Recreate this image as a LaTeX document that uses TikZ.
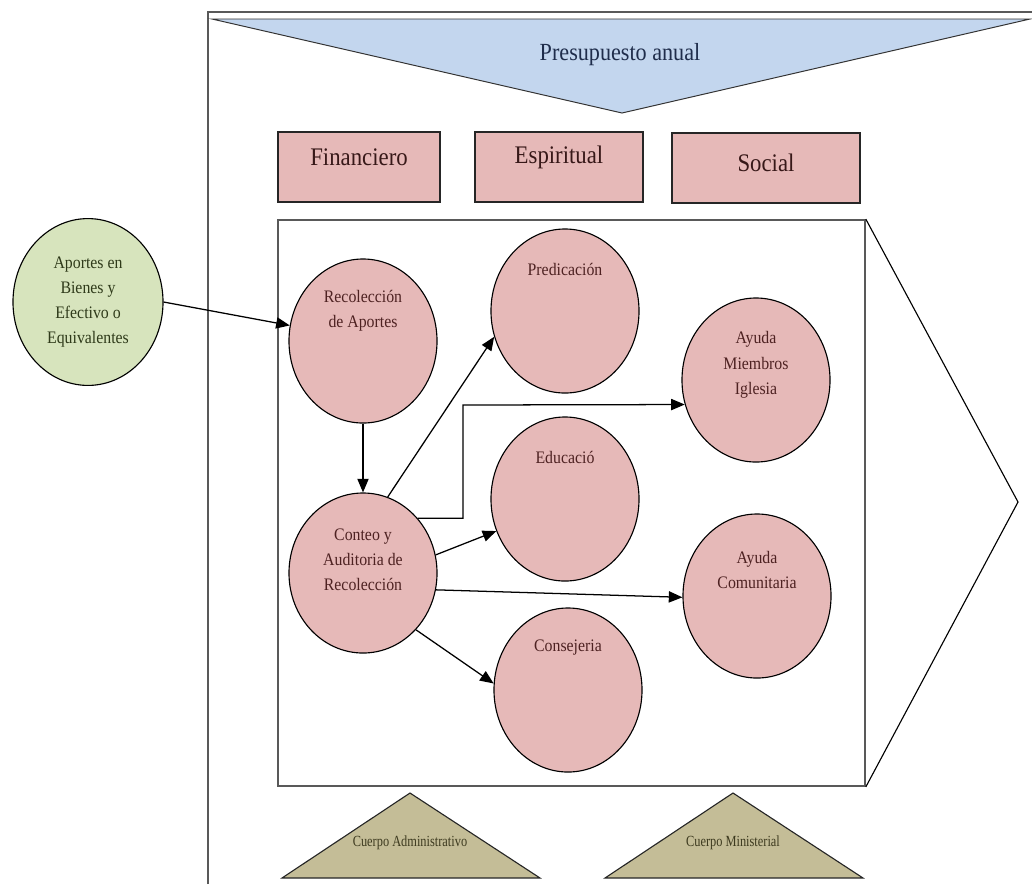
\documentclass[tikz,border=0pt]{standalone}
\usepackage{fontspec}
\setmainfont{Liberation Serif}
\newfontfamily\narrowserif[FakeStretch=0.9]{Liberation Serif}
\newfontfamily\tightserif[FakeStretch=0.8]{Liberation Serif}
\usetikzlibrary{shapes.geometric,arrows.meta}
\definecolor{rosefill}{HTML}{E6B9B8}
\definecolor{rosetext}{HTML}{4E2222}
\definecolor{skyfill}{HTML}{C3D6EE}
\definecolor{skytext}{HTML}{1F2D4B}
\definecolor{leaffill}{HTML}{D7E4BD}
\definecolor{leaftext}{HTML}{2F3A1A}
\definecolor{tanfill}{HTML}{C4BD97}
\definecolor{tantext}{HTML}{3D3A1F}
\begin{document}
\begin{tikzpicture}[x=0.025cm,y=-0.025cm,
  frame/.style={draw=gray!70!black, line width=1.1pt},
  bubble/.style={ellipse, draw=black, line width=0.8pt, fill=rosefill,
    minimum width=3.7cm, minimum height=4.1cm, inner sep=0pt},
  bubbletext/.style={font=\narrowserif\fontsize{12.5}{17.8}\selectfont,
    text=rosetext, align=center},
  areabox/.style={rectangle, draw=gray!30!black, line width=0.9pt, fill=rosefill,
    minimum height=1.75cm, inner sep=0pt},
  areatext/.style={font=\narrowserif\fontsize{18}{20}\selectfont, text=rosetext!70!black},
  bodytext/.style={font=\tightserif\fontsize{11}{13}\selectfont, text=tantext},
  arr/.style={-{Triangle[length=3.4mm,width=2.8mm]}, line width=0.9pt}
]
  \useasboundingbox (0,0) rectangle (1032,884);
  % outer frame
  \draw[frame] (208,884) -- (208,12) -- (1032,12);
  % budget funnel
  \draw[fill=skyfill, draw=black!80, line width=0.7pt] (212,19) -- (1030,19) -- (622,113) -- cycle;
  \node[font=\narrowserif\fontsize{17.5}{20}\selectfont, text=skytext] (budget) at (620,55) {Presupuesto anual};
  % areas
  \node[areabox, minimum width=4.05cm, label={[areatext, yshift=0.25cm]center:Financiero}] (fin) at (359,167) {};
  \node[areabox, minimum width=4.2cm, label={[areatext, yshift=0.25cm]center:Espiritual}] (esp) at (559,167) {};
  \node[areabox, minimum width=4.7cm, label={[areatext, yshift=0.12cm]center:Social}] (soc) at (766,168) {};
  % process box and chevron
  \node[frame, rectangle, minimum width=14.675cm, minimum height=14.15cm, inner sep=0pt] (proc) at (571.5,503) {};
  \coordinate (tip) at (1018,502);
  \draw[line width=0.8pt] (proc.north east) -- (tip) -- (proc.south east);
  % input
  \node[ellipse, draw=black, line width=0.8pt, fill=leaffill, minimum width=3.75cm, minimum height=4.17cm, inner sep=0pt,
    label={[bubbletext, text=leaftext]center:{Aportes en\\Bienes y\\Efectivo o\\Equivalentes}}] (input) at (88,302) {};
  % activities
  \node[bubble, label={[bubbletext, yshift=0.75cm]center:{Recolección\\de Aportes}}] (rec) at (363,341) {};
  \node[bubble, minimum height=4cm, label={[bubbletext, yshift=0.33cm]center:{Conteo y\\Auditoria de\\Recolección}}] (conteo) at (363,573) {};
  \node[bubble, label={[bubbletext, yshift=1.05cm]center:Predicación}] (pred) at (565,311) {};
  \node[bubble, label={[bubbletext, yshift=1.05cm]center:Educació}] (educ) at (565,499) {};
  \node[bubble, label={[bubbletext, yshift=1.05cm]center:Consejeria}] (cons) at (568,690) {};
  \node[bubble, label={[bubbletext, yshift=0.38cm]center:{Ayuda\\Miembros\\Iglesia}}] (miem) at (756,380) {};
  \node[bubble, label={[bubbletext, yshift=0.65cm]center:{Ayuda\\Comunitaria}}] (comu) at (757,596) {};
  % flows
  \coordinate (bend) at (463,405);
  \draw[arr] (input.east) -- (rec.168);
  \draw[arr] (rec.south) -- (conteo.north);
  \draw[arr] (conteo.72) -- (pred.200);
  \draw[arr] (conteo.45) -| (bend) -- (miem.199);
  \draw[arr] (conteo.14) -- (educ.205);
  \draw[arr] (conteo.-13) -- (comu.181);
  \draw[arr] (conteo.-47) -- (cons.175);
  % support bodies
  \draw[fill=tanfill, draw=black!85, line width=0.8pt] (282,878) -- (410,793) -- (540,878) -- cycle;
  \node[bodytext] (admin) at (410,843) {Cuerpo Administrativo};
  \draw[fill=tanfill, draw=black!85, line width=0.8pt] (605,878) -- (733,793) -- (863,878) -- cycle;
  \node[bodytext] (minis) at (733,843) {Cuerpo Ministerial};
\end{tikzpicture}
\end{document}
